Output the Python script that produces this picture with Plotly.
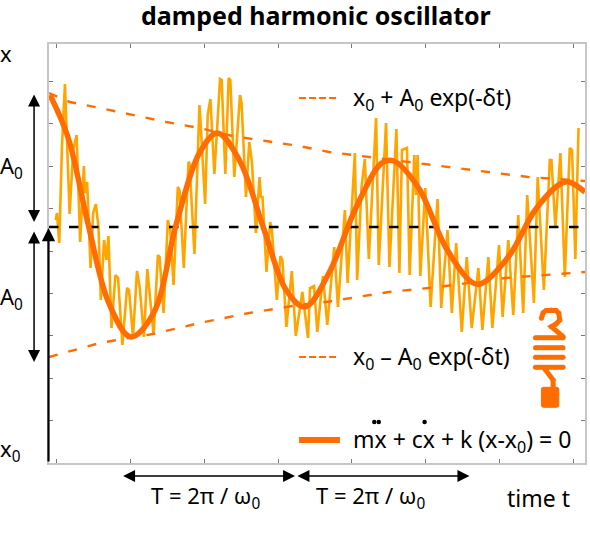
import plotly.graph_objects as go

# time / displacement readings (arbitrary units: one x tick = 74, one y tick = 42.4)
response_t = [-1.3,0,2.3,5,8,10.3,12.7,16.3,19.7,23.3,27,28,30.3,33.7,36.3,39,41.7,44,47.3,49.7,51.7,54.7,58.7,61.3,65.7,70.3,72.3,76.3,80.3,83,87.3,90.7,
    97,101.3,103,107,111.3,113.7,117,121.3,123,127.3,132,133,138,143,144,148.7,151.3,154,158,163.7,165.3,169,172.3,174,178,183.7,185.3,189.7,
    193,195.7,199.7,203.3,204.7,206.3,210.3,214,215.7,220.7,224.3,226.3,230.3,235.7,239.7,246.3,252,254,258,261.3,267,271.3,278.3,282,289,291.7,
    299,301.3,305.7,309,313,320.3,323,330.3,333.7,340.7,343.7,346.3,351.3,354,358.7,360.3,362,364.7,369.7,375,382,385.7,392,
    396.3,400.7,406.3,411.3,416.3,423,427,433,437,443.7,447.3,453,458,463,468,472,478.7,482.5,488.7,494.7,496.3,500.3,505.3,509.7,514.7,517,520.3,523.5]
response_x = [243,250,220,316,379,306,249,313,328,221,297,270,281,195,250,259,236,163,223,203,227,135,188,185,118,175,173,126,192,176,126,194,
    128,208,206,150,243,233,178,276,273,195,301,300,209,358,343,259,348,364,289,384,383,289,385,383,286,368,360,266,
    321,301,230,286,266,266,191,241,233,163,207,203,136,192,127,171,125,175,177,131,187,138,216,156,253,180,
    310,183,276,304,204,345,198,340,196,334,190,313,315,188,308,268,308,187,275,156,264,155,233,
    150,220,131,206,135,195,133,206,135,218,146,223,148,248,150,268,160,286,173,303,303,236,310,186,315,313,204,335]

mean_t = [-7,11,31,52,74,97,120,143,161,183,208,230,249,273,300,326,338,363,390,416,425,453,480,505,514,530]
mean_x = [368,326,240,160,126,150,240,310,330,303,233,173,156,190,255,300,302,275,216,181,179,206,253,279,281,271]

upper_t = [-8,13,43,76.3,109.7,143,176.3,209.7,243,273,313,366,416,473,530]
upper_x = [370,361,355,348,341,335,327,322,317,311,306,299,293,286,282]
lower_t = [-8,43,96.3,143,193,243,269.7,333,383,450,530]
lower_x = [106,120,129,140,150,158,161,171,176,185,191]
x0_t = [-8,530]
x0_x = [236,236]

spring_t = [486.3,488,491,496.3,501,503.7,504.7,501,496.3,508,None,480.3,508,None,480.3,508,None,480.3,508,None,480.3,508,None,489.7,498,498]
spring_x = [144.7,150.3,152.5,153,152.5,149.7,143,139,136.3,126.3,None,125.3,125.3,None,115.3,115.3,None,105.7,105.7,None,95.7,95.7,None,94,83,75]
dots_t = [318.5,323,369]
dots_x = [41,41,41]

ORANGE = "#ff6d00"
YELLOW = "#ffa500"
FONT = "Noto Sans"
T_MIN, T_MAX, X_MAX = -8, 530, 419

fig = go.Figure()
fig.add_trace(go.Scatter(x=response_t, y=response_x, mode="lines", line=dict(color=YELLOW, width=2.6)))
fig.add_trace(go.Scatter(x=x0_t, y=x0_x, mode="lines", line=dict(color="black", width=2.5, dash="9.5px,10.5px")))
for tt, xx in ((upper_t, upper_x), (lower_t, lower_x)):
    fig.add_trace(go.Scatter(x=tt, y=xx, mode="lines", line=dict(color=ORANGE, width=2.4, dash="9px,11px")))
fig.add_trace(go.Scatter(x=mean_t, y=mean_x, mode="lines", line=dict(color=ORANGE, width=5.5, shape="spline", smoothing=1)))
fig.add_trace(go.Scatter(x=spring_t, y=spring_x, mode="lines+markers", line=dict(color=ORANGE, width=5),
                         marker=dict(color=ORANGE, size=5)))
fig.add_trace(go.Scatter(x=dots_t, y=dots_x, mode="markers", marker=dict(color="black", size=4.5)))

shapes = [
    dict(type="path", path="M 488.3 75.7 L 501.7 75.7 Q 503.7 75.7 503.7 73.7 L 503.7 57.7 Q 503.7 55.7 501.7 55.7 L 488.3 55.7 Q 486.3 55.7 486.3 57.7 L 486.3 73.7 Q 486.3 75.7 488.3 75.7 Z",
         xref="x", yref="y", fillcolor=ORANGE, line=dict(color=ORANGE, width=1)),
    dict(type="line", xref="x", yref="y", x0=243, x1=281, y0=365, y1=365, line=dict(color=ORANGE, width=2.2, dash="7px,3px")),
    dict(type="line", xref="x", yref="y", x0=243, x1=281, y0=106, y1=106, line=dict(color=ORANGE, width=2.2, dash="7px,3px")),
    dict(type="line", xref="x", yref="y", x0=243, x1=284, y0=23, y1=23, line=dict(color=ORANGE, width=6)),
]

def px(t):
    return (t - T_MIN) / (T_MAX - T_MIN)

def py(x):
    return x / X_MAX

def label(t, x, text, size=23, anchor="left"):
    return dict(x=px(t), y=py(x), xref="paper", yref="paper", text=text, showarrow=False,
                xanchor=anchor, yanchor="middle", font=dict(family=FONT, size=size, color="black"))

def arrow(t0, x0, t1, x1, side="end", width=1.5, size=1.6):
    return dict(x=px(t1), y=py(x1), ax=t0 - t1, ay=x1 - x0, xref="paper", yref="paper", axref="pixel", ayref="pixel",
                text="", showarrow=True, arrowhead=2, startarrowhead=2, arrowside=side, arrowwidth=width,
                arrowsize=size, startarrowsize=size, arrowcolor="black", standoff=0, startstandoff=0)

annotations = [
    label(268, 448.5, "<b>damped harmonic oscillator</b>", size=25, anchor="center"),
    label(-59, 410, "x", size=22),
    label(-59, 296, "A<sub>0</sub>", size=22),
    label(-59, 165, "A<sub>0</sub>", size=22),
    label(-59, 13, "x<sub>0</sub>", size=22),
    label(295, 365, "x<sub>0</sub> + A<sub>0</sub> exp(-δt)"),
    label(295, 106, "x<sub>0</sub> – A<sub>0</sub> exp(-δt)"),
    label(295, 23, "mx + cx + k (x-x<sub>0</sub>) = 0"),
    label(149, -34, "T = 2π / ω<sub>0</sub>", size=22, anchor="center"),
    label(315, -34, "T = 2π / ω<sub>0</sub>", size=22, anchor="center"),
    label(483, -35, "time t", size=23, anchor="center"),
    arrow(-23, 370, -23, 241, side="end+start"),
    arrow(-23, 233, -23, 101, side="end+start"),
    arrow(-8.5, 0, -8.5, 235, width=2.2, size=1.2),
    arrow(65.5, -13, 239, -13, side="end+start"),
    arrow(240.5, -13, 414, -13, side="end+start"),
]
annotations[0]["x"] = (268 + 0) / 538

axis_common = dict(showgrid=False, zeroline=False, showticklabels=False, showline=True, linecolor="#c6c6c6",
                   linewidth=1.5, mirror="allticks", ticks="inside", ticklen=4, tickwidth=1, tickcolor="#777777")

fig.update_layout(
    width=590, height=546, showlegend=False, plot_bgcolor="white", paper_bgcolor="white",
    margin=dict(l=49, r=3, t=44, b=83),
    xaxis=dict(range=[T_MIN, T_MAX], tick0=0, dtick=74, **axis_common),
    yaxis=dict(range=[0, X_MAX], tick0=0, dtick=42.4, **axis_common),
    shapes=shapes, annotations=annotations, hovermode=False,
)
fig.write_html("out.html", post_script="document.body.style.margin='0';", config={"displayModeBar": False})
